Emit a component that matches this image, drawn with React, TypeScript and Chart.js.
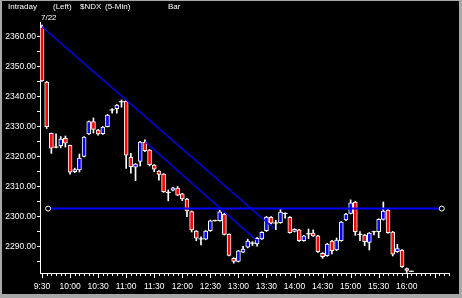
import React, { useEffect, useRef } from "react";
import { Chart, registerables } from "chart.js";

Chart.register(...registerables);

// ---- data (5-minute bars, 9:30 .. 16:00) ----
const timeLabels = ["9:30", "10:00", "10:30", "11:00", "11:30", "12:00", "12:30", "13:00", "13:30", "14:00", "14:30", "15:00", "15:30", "16:00"];
const barsPerLabel = 6;

const opens = [
  2363.3, 2345.0, 2327.9, 2323.3, 2323.8, 2326.2, 2323.9, 2315.1, 2315.7, 2320.2,
  2327.7, 2331.8, 2329.0, 2327.8, 2330.1, 2335.7, 2336.1, 2338.4, 2338.6, 2319.9,
  2316.6, 2318.5, 2325.0, 2322.3, 2317.3, 2315.3, 2314.3, 2308.2, 2308.9, 2309.6,
  2307.7, 2306.0, 2301.8, 2295.3, 2292.7, 2292.6, 2295.4, 2298.8, 2298.8, 2300.9,
  2294.2, 2286.2, 2285.2, 2288.3, 2289.9, 2291.3, 2291.0, 2292.7, 2295.4, 2299.9,
  2298.0, 2298.1, 2301.2, 2299.9, 2295.2, 2295.7, 2292.1, 2294.4, 2294.6, 2293.7,
  2287.9, 2287.1, 2292.0, 2289.0, 2292.1, 2299.0, 2301.2, 2305.0, 2294.2, 2294.0,
  2291.5, 2295.1, 2295.1, 2299.2, 2302.3, 2295.0, 2288.4, 2288.9, 2282.8, 2281.9,
];
const highs = [
  2364.0, 2345.2, 2328.0, 2327.7, 2326.8, 2327.0, 2324.0, 2316.3, 2321.0, 2326.8,
  2332.0, 2333.0, 2329.2, 2330.2, 2334.2, 2336.1, 2337.5, 2339.0, 2338.8, 2321.2,
  2317.8, 2325.2, 2325.7, 2322.5, 2317.5, 2315.5, 2314.5, 2309.0, 2309.9, 2310.2,
  2307.9, 2306.2, 2302.0, 2295.5, 2293.4, 2295.5, 2299.0, 2299.0, 2302.3, 2301.2,
  2294.4, 2286.4, 2288.9, 2290.2, 2292.6, 2291.8, 2293.1, 2295.1, 2300.2, 2300.1,
  2298.9, 2302.6, 2301.4, 2300.1, 2296.1, 2295.9, 2293.9, 2296.0, 2295.7, 2293.9,
  2288.1, 2291.2, 2292.2, 2293.0, 2298.5, 2301.2, 2305.7, 2305.2, 2295.1, 2294.2,
  2294.8, 2295.3, 2299.4, 2305.0, 2302.5, 2295.2, 2290.9, 2289.1, 2283.0, 2282.0,
];
const lows = [
  2345.2, 2329.5, 2321.2, 2323.0, 2323.0, 2323.3, 2314.3, 2314.8, 2315.0, 2320.0,
  2327.5, 2328.0, 2327.3, 2327.5, 2330.0, 2334.6, 2334.6, 2336.6, 2316.2, 2314.6,
  2312.1, 2317.0, 2321.8, 2317.0, 2315.1, 2312.3, 2308.2, 2305.4, 2308.7, 2307.1,
  2305.4, 2300.1, 2295.0, 2292.1, 2290.7, 2292.4, 2295.2, 2298.6, 2298.6, 2294.0,
  2287.0, 2284.6, 2285.0, 2288.1, 2289.7, 2290.5, 2290.3, 2292.5, 2295.2, 2297.7,
  2295.8, 2297.9, 2299.6, 2294.6, 2295.0, 2291.9, 2291.9, 2292.8, 2293.5, 2288.2,
  2286.2, 2286.9, 2287.7, 2288.8, 2291.9, 2298.8, 2301.0, 2293.9, 2292.1, 2290.4,
  2289.0, 2294.0, 2293.1, 2299.0, 2294.6, 2287.0, 2288.2, 2283.2, 2281.5, 2281.8,
];
const closes = [
  2345.4, 2330.1, 2322.9, 2323.3, 2326.0, 2324.6, 2314.9, 2315.8, 2319.6, 2326.6,
  2331.8, 2329.2, 2327.7, 2330.0, 2334.0, 2335.7, 2337.3, 2338.4, 2320.6, 2316.8,
  2317.6, 2325.0, 2322.1, 2317.4, 2315.9, 2314.2, 2308.4, 2308.2, 2309.7, 2307.3,
  2306.0, 2302.0, 2295.7, 2292.9, 2292.7, 2295.3, 2298.7, 2298.8, 2301.7, 2294.2,
  2287.2, 2285.2, 2288.7, 2289.3, 2292.0, 2291.3, 2292.9, 2294.9, 2300.0, 2297.9,
  2298.0, 2301.6, 2301.2, 2294.8, 2295.9, 2292.1, 2293.7, 2294.4, 2293.7, 2288.4,
  2286.8, 2291.0, 2288.8, 2292.3, 2298.3, 2301.0, 2304.7, 2295.1, 2294.2, 2291.8,
  2294.6, 2295.1, 2299.2, 2302.0, 2294.8, 2287.6, 2289.5, 2283.4, 2282.2, 2281.9,
];

// drawn lines: [bar index, price]
const trendLine1 = [[0, 2363.4], [49.6, 2296.2]];
const trendLine2 = [[22.1, 2325.0], [45.8, 2292.3]];
const levelLine = [[1.3, 2302.8], [85.5, 2302.8]];

const headerTexts = ["Intraday", "(Left)", "$NDX", "(5-Min)", "Bar"];
const dateText = "7/22";

const yMin = 2281.33;
const yMax = 2365;
const xMin = -0.43;
const xMax = 87.04;

const FONT = "'Liberation Sans', Arial, sans-serif";

export default function App() {
  const ref = useRef<HTMLCanvasElement | null>(null);

  useEffect(() => {
    document.body.style.margin = "0";
    const canvas = ref.current;
    if (!canvas) return;

    const idx = opens.map((_, i) => i);
    const isDoji = (i: number) => opens[i] === closes[i];

    const bodyData = idx.filter((i) => !isDoji(i)).map((i) => ({ x: i, y: [opens[i], closes[i]] }));
    const bodyColors = idx.filter((i) => !isDoji(i)).map((i) => (closes[i] > opens[i] ? "#0000ff" : "#ff0000"));
    const wickData = idx.map((i) => ({ x: i, y: [lows[i], highs[i]] }));
    const dojiData = idx.filter(isDoji).map((i) => ({ x: i, y: closes[i] }));
    const toPts = (a: number[][]) => a.map((p) => ({ x: p[0], y: p[1] }));

    const decor = {
      id: "decor",
      beforeDraw(chart: any) {
        const { ctx, width, height } = chart;
        ctx.save();
        ctx.fillStyle = "#000";
        ctx.fillRect(0, 0, width, height);
        ctx.restore();
      },
      afterDraw(chart: any) {
        const { ctx, chartArea } = chart;
        const xs = chart.scales.x;
        ctx.save();
        ctx.strokeStyle = "#fff";
        ctx.lineWidth = 1;
        for (let i = Math.ceil(xs.min); i <= Math.floor(xs.max); i++) {
          const px = Math.round(xs.getPixelForValue(i)) + 0.5;
          const len = i % barsPerLabel === 0 ? 5 : 3;
          ctx.beginPath();
          ctx.moveTo(px, chartArea.bottom);
          ctx.lineTo(px, chartArea.bottom + len);
          ctx.stroke();
        }
        ctx.fillStyle = "#fff";
        ctx.font = `8px ${FONT}`;
        ctx.textBaseline = "middle";
        ctx.textAlign = "left";
        const hx = [6, 51, 78, 103, 166];
        headerTexts.forEach((t, k) => ctx.fillText(t, hx[k], 6));
        ctx.fillText(dateText, Math.round(xs.getPixelForValue(0)) - 1, 16.5);
        ctx.restore();
      },
    };

    const chart = new Chart(canvas, {
      type: "bar",
      data: {
        datasets: [
          {
            type: "scatter",
            data: toPts(levelLine),
            showLine: true,
            borderColor: "#0000ff",
            borderWidth: 2,
            pointRadius: 2.5,
            pointBorderColor: "#fff",
            pointBackgroundColor: "#000",
            pointBorderWidth: 1,
            order: 0,
          } as any,
          {
            type: "scatter",
            data: toPts(trendLine1),
            showLine: true,
            borderColor: "#0000ff",
            borderWidth: 1.3,
            pointRadius: 0,
            order: 0,
          } as any,
          {
            type: "scatter",
            data: toPts(trendLine2),
            showLine: true,
            borderColor: "#0000ff",
            borderWidth: 1.3,
            pointRadius: 0,
            order: 0,
          } as any,
          {
            type: "scatter",
            data: dojiData,
            pointStyle: "line",
            pointRadius: 2.5,
            pointBorderColor: "#fff",
            pointBorderWidth: 1,
            order: 1,
          } as any,
          {
            type: "bar",
            data: bodyData,
            backgroundColor: bodyColors,
            borderColor: "#fff",
            borderWidth: 1,
            borderSkipped: false,
            barThickness: 4,
            grouped: false,
            order: 2,
          } as any,
          {
            type: "bar",
            data: wickData,
            backgroundColor: "#fff",
            borderWidth: 0,
            barThickness: 1,
            grouped: false,
            order: 3,
          } as any,
        ],
      },
      options: {
        animation: false,
        responsive: false,
        devicePixelRatio: 1,
        layout: { padding: { left: 0, right: 10, top: 21, bottom: 0 } },
        plugins: { legend: { display: false }, tooltip: { enabled: false } },
        scales: {
          x: {
            type: "linear",
            offset: false,
            min: xMin,
            max: xMax,
            afterFit(s: any) {
              s.height = 21;
            },
            afterBuildTicks(s: any) {
              s.ticks = timeLabels.map((_, k) => ({ value: k * barsPerLabel }));
            },
            ticks: {
              autoSkip: false,
              maxRotation: 0,
              color: "#fff",
              padding: 4,
              font: { family: FONT, size: 8.5 },
              callback: (v: any) => timeLabels[Math.round(Number(v) / barsPerLabel)] ?? "",
            },
            grid: { drawOnChartArea: false, drawTicks: true, tickLength: 5, tickColor: "rgba(0,0,0,0)" },
            border: { display: true, color: "#fff" },
          },
          y: {
            type: "linear",
            offset: false,
            min: yMin,
            max: yMax,
            afterFit(s: any) {
              s.width = 38;
            },
            afterBuildTicks(s: any) {
              s.ticks = s.ticks.filter((t: any) => t.value >= yMin && t.value <= 2360);
            },
            ticks: {
              stepSize: 5,
              includeBounds: false,
              color: "#fff",
              padding: 1,
              font: { family: FONT, size: 8.5 },
              callback: (v: any) => (Math.round(Number(v)) % 10 === 0 ? Number(v).toFixed(2) : ""),
            },
            grid: { drawOnChartArea: false, drawTicks: true, tickLength: 3, color: "#fff" },
            border: { display: true, color: "#fff" },
          },
        },
      } as any,
      plugins: [decor],
    });

    return () => chart.destroy();
  }, []);

  return (
    <div
      style={{
        width: 462,
        height: 298,
        boxSizing: "border-box",
        borderStyle: "solid",
        borderColor: "#a8a8a8",
        borderWidth: "1px 3px 4px 2px",
        background: "#000",
      }}
    >
      <canvas ref={ref} width={457} height={293} style={{ display: "block" }} />
    </div>
  );
}
